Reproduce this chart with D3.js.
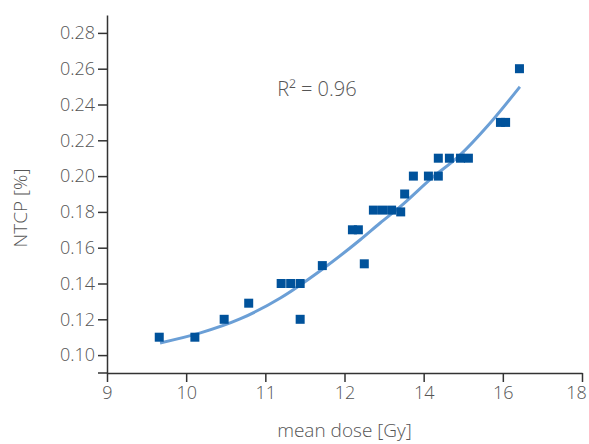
<!DOCTYPE html>
<html>
<head>
<meta charset="utf-8">
<script src="https://cdn.jsdelivr.net/npm/d3@7"></script>
<style>
  html, body { margin: 0; padding: 0; background: #fff; }
  svg text { font-family: "Open Sans", "Noto Sans", sans-serif; font-weight: 300; fill: #555; }
</style>
</head>
<body>
<svg id="chart" width="589" height="444"></svg>
<script>
// ---- data ----
const xTickValues = [9, 10, 11, 12, 14, 16, 18];
const yTickValues = [0.10, 0.12, 0.14, 0.16, 0.18, 0.20, 0.22, 0.24, 0.26, 0.28];
const yDomain = [0.09, 0.29];

const pointDose = [9.66, 10.11, 10.48, 11.44, 10.79, 11.20, 11.32, 11.44, 11.72, 12.50,
                   12.20, 12.35, 12.73, 12.96, 13.19, 13.42, 13.52, 13.74, 14.12, 14.37,
                   14.37, 14.65, 14.93, 15.13, 15.94, 16.07, 16.42];
const pointNTCP = [0.110, 0.110, 0.120, 0.120, 0.129, 0.140, 0.140, 0.140, 0.150, 0.151,
                   0.170, 0.170, 0.181, 0.181, 0.181, 0.180, 0.190, 0.200, 0.200, 0.200,
                   0.210, 0.210, 0.210, 0.210, 0.230, 0.230, 0.260];

const fitDose = [9.67, 10.18, 10.68, 11.19, 11.69, 12.39, 12.90, 13.40, 14.24, 14.84, 15.68, 16.43];
const fitNTCP = [0.1068, 0.1124, 0.1202, 0.1319, 0.1470, 0.1643, 0.1738, 0.1828, 0.1996, 0.2102, 0.2297, 0.2499];

const annotation = "R² = 0.96";
const xTitle = "mean dose [Gy]";
const yTitle = "NTCP [%]";

// ---- layout ----
const mLeft = 107, mRight = 582, mTop = 15, mBottom = 373, tickLen = 9;
const svg = d3.select("#chart");

const step = (mRight - mLeft) / (xTickValues.length - 1);
const x = d3.scaleLinear().domain(xTickValues).range(xTickValues.map((d, i) => mLeft + i * step));
const y = d3.scaleLinear().domain(yDomain).range([mBottom, mTop]);

const axisColor = "#333";

// fitted curve
const line = d3.line().x(d => x(d[0])).y(d => y(d[1])).curve(d3.curveMonotoneX);
svg.append("path")
  .datum(fitDose.map((d, i) => [d, fitNTCP[i]]))
  .attr("d", line)
  .attr("fill", "none")
  .attr("stroke", "#6b9fd6")
  .attr("stroke-width", 3);

// points
const sz = 9;
svg.append("g").selectAll("rect")
  .data(pointDose.map((d, i) => [d, pointNTCP[i]]))
  .join("rect")
  .attr("x", d => x(d[0]) - sz / 2)
  .attr("y", d => y(d[1]) - sz / 2)
  .attr("width", sz)
  .attr("height", sz)
  .attr("fill", "#00529b");

// y axis
const gy = svg.append("g").attr("transform", `translate(${mLeft},0)`)
  .call(d3.axisLeft(y).tickValues(yTickValues).tickFormat(d3.format(".2f")).tickSize(tickLen).tickSizeOuter(0).tickPadding(3));
// x axis
const gx = svg.append("g").attr("transform", `translate(0,${mBottom})`)
  .call(d3.axisBottom(x).tickValues(xTickValues).tickFormat(d3.format("d")).tickSize(tickLen).tickSizeOuter(0).tickPadding(4));

[gx, gy].forEach(g => {
  g.select(".domain").attr("stroke", axisColor).attr("stroke-width", 1.5);
  g.selectAll(".tick line").attr("stroke", axisColor).attr("stroke-width", 1.5);
  g.selectAll(".tick text").style("font-size", "18px").style("font-family", "'Open Sans', sans-serif")
    .style("font-weight", 300).attr("fill", "#555");
});
// keep last x label inside the picture
gx.selectAll(".tick text").filter(d => d === xTickValues[xTickValues.length - 1]).attr("dx", -6);
// bottom-left stub of x axis line extending past y axis (outer tick)
gx.append("line").attr("x1", mLeft - tickLen).attr("x2", mLeft).attr("y1", 0).attr("y2", 0)
  .attr("stroke", axisColor).attr("stroke-width", 1.5);

// titles
svg.append("text").attr("x", (mLeft + mRight) / 2).attr("y", 437)
  .attr("text-anchor", "middle").style("font-size", "19px").text(xTitle);
svg.append("text").attr("transform", `translate(27,${(mTop + mBottom) / 2 + 14}) rotate(-90)`)
  .attr("text-anchor", "middle").style("font-size", "19px").text(yTitle);

// annotation
svg.append("text").attr("x", x(11.15)).attr("y", y(0.245))
  .style("font-size", "20px").text(annotation);
</script>
</body>
</html>
